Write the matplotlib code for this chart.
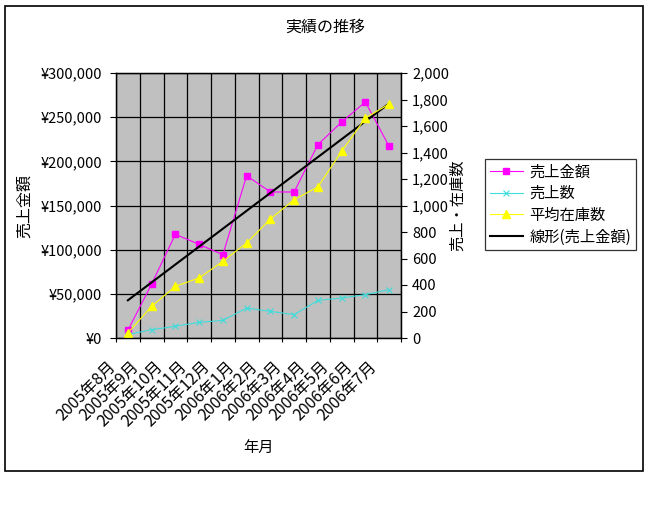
import numpy as np
import matplotlib
matplotlib.use("Agg")
import matplotlib.pyplot as plt
from matplotlib.patches import Rectangle
from matplotlib.transforms import ScaledTranslation
from matplotlib.ticker import FuncFormatter

plt.rcParams['font.family'] = ['Noto Sans CJK JP', 'DejaVu Sans']

# data
months = ["2005年8月", "2005年9月", "2005年10月", "2005年11月", "2005年12月", "2006年1月",
          "2006年2月", "2006年3月", "2006年4月", "2006年5月", "2006年6月", "2006年7月"]
sales_amount = [8700, 61100, 117400, 106000, 94300, 183800,
                165300, 165300, 218900, 244500, 267200, 217000]
sales_count = [25, 63, 88, 118, 133, 226, 201, 176, 284, 302, 327, 365]
avg_stock = [38, 239, 390, 453, 579, 717, 898, 1044, 1140, 1409, 1660, 1766]

x = np.arange(1, len(months) + 1)

fig = plt.figure(figsize=(6.5, 5.12), dpi=100)
fig.patch.set_facecolor("white")

# outer chart border
fig.patches.append(Rectangle((5 / 650, 1 - 471 / 512), 638 / 650, 465 / 512,
                             transform=fig.transFigure, fill=False,
                             edgecolor="black", linewidth=1.2))

ax = fig.add_axes([116 / 650, 1 - 338 / 512, 285 / 650, 265 / 512])
ax.set_facecolor("#C0C0C0")
ax2 = ax.twinx()

# primary: sales amount + linear trend
l1, = ax.plot(x, sales_amount, color="#FF00FF", marker="s", markersize=5,
              linewidth=0.8, zorder=3)
k, b = np.polyfit(x, sales_amount, 1)
l4, = ax.plot([x[0], x[-1]], [k * x[0] + b, k * x[-1] + b], color="black",
              linewidth=1.5, zorder=4)

# secondary: count and stock
l2, = ax2.plot(x, sales_count, color="#40DCDC", marker="x", markersize=4,
               markeredgewidth=0.8, linewidth=0.8)
l3, = ax2.plot(x, avg_stock, color="#FFFF00", marker="^", markersize=6,
               linewidth=0.8)

ax.set_xlim(0.5, 12.5)
ax.set_ylim(0, 300000)
ax.set_yticks(np.arange(0, 300001, 50000))
ax.yaxis.set_major_formatter(FuncFormatter(lambda v, p: "¥{:,}".format(int(v))))
ax2.set_ylim(0, 2000)
ax2.set_yticks(np.arange(0, 2001, 200))
ax2.yaxis.set_major_formatter(FuncFormatter(lambda v, p: "{:,}".format(int(v))))

ax.set_xticks(x)
ax.set_xticklabels(months, rotation=45, ha="right", va="center",
                   rotation_mode="anchor", fontsize=11.5)
ax.set_xticks(np.arange(0.5, 12.6, 1), minor=True)
ax.tick_params(axis="x", which="major", length=0, pad=19)
ax.tick_params(axis="x", which="minor", length=3, width=0.8)
shift = ScaledTranslation(-15 / 100, 0, fig.dpi_scale_trans)
for lab in ax.get_xticklabels():
    lab.set_transform(lab.get_transform() + shift)

ax.tick_params(axis="y", length=4, width=0.8, pad=6, labelsize=10.5)
ax2.tick_params(axis="y", length=4, width=0.8, pad=4, labelsize=10.5)

# grid: horizontal at majors, vertical at category boundaries
ax.grid(True, axis="y", which="major", color="black", linewidth=0.9)
ax.grid(True, axis="x", which="minor", color="black", linewidth=0.9)
ax.set_axisbelow(True)
for a in (ax, ax2):
    for s in a.spines.values():
        s.set_color("black")
        s.set_linewidth(0.9)

ax.set_ylabel("売上金額", fontsize=11.5)
ax.yaxis.set_label_coords(-0.29, 0.5)
ax2.set_ylabel("売上・在庫数", fontsize=11)
ax2.yaxis.set_label_coords(1.17, 0.5)
ax.set_xlabel("年月", fontsize=11)
ax.xaxis.set_label_coords(0.5, -0.38)

fig.text(0.5, 1 - 27 / 512, "実績の推移", ha="center", va="center", fontsize=11.5)

leg = fig.legend([l1, l2, l3, l4], ["売上金額", "売上数", "平均在庫数", "線形(売上金額)"],
                 loc="upper left", bbox_to_anchor=(485 / 650, 1 - 159 / 512),
                 fontsize=11, frameon=True, fancybox=False, numpoints=1,
                 handlelength=2.2, handletextpad=0.4, borderpad=0.3,
                 labelspacing=0.3, borderaxespad=0)
leg.get_frame().set_edgecolor("black")
leg.get_frame().set_linewidth(0.9)

fig.savefig("out.png", dpi=100)
